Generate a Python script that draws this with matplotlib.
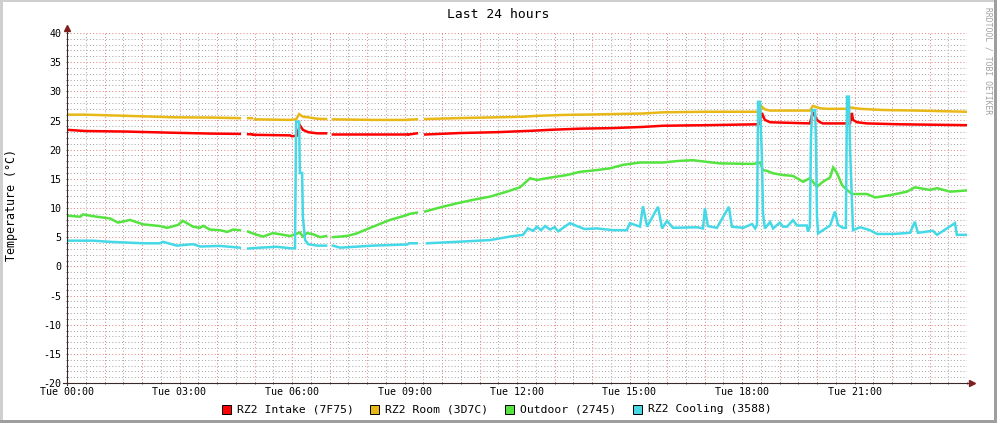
"""RRDtool-style 'Last 24 hours' temperature graph, redrawn with matplotlib."""
import numpy as np
import matplotlib
matplotlib.use("Agg")
import matplotlib.pyplot as plt
from matplotlib.patches import Rectangle
from matplotlib.ticker import MultipleLocator, FuncFormatter

nan = np.nan

# ---- data (hours since Tue 00:00, degC); nan marks gaps in the rrd ----
intake_t = [0.00, 0.48, 1.60, 2.83, 3.89, 4.61, 4.62, 4.83, 4.93, 4.94, 4.96, 5.95, 6.00,
            6.13, 6.21, 6.29, 6.43, 6.67, 6.91, 6.92, 7.09, 9.07, 9.08, 9.12, 9.33, 9.34,
            9.55, 10.48, 11.47, 12.43, 12.88, 13.68, 14.56, 15.36, 15.89, 17.07, 18.43,
            18.48, 18.53, 18.61, 18.75, 19.81, 19.89, 20.00, 20.08, 20.16, 20.88, 20.93,
            20.96, 21.07, 21.33, 22.21, 23.97]
intake_v = [23.4, 23.2, 23.1, 22.9, 22.75, 22.7, nan, 22.65, 22.65, nan, 22.55, 22.45, 22.3,
            22.4, 24.2, 23.4, 23.0, 22.8, 22.8, nan, 22.6, 22.6, nan, 22.6, 22.8, nan,
            22.6, 22.85, 23.0, 23.25, 23.4, 23.6, 23.7, 23.9, 24.1, 24.2, 24.35,
            24.5, 26.3, 25.1, 24.7, 24.5, 26.4, 25.1, 24.7, 24.5, 24.5, 26.3,
            25.1, 24.7, 24.5, 24.35, 24.2]

room_t = [0.00, 0.48, 1.60, 2.83, 3.89, 4.61, 4.62, 4.83, 4.93, 4.94, 5.01, 5.95, 6.11,
          6.19, 6.29, 6.43, 6.67, 6.91, 6.92, 7.09, 8.16, 9.07, 9.08, 9.12, 9.33, 9.34,
          9.55, 10.40, 11.47, 12.16, 12.53, 13.23, 14.13, 15.36, 15.89, 17.07, 18.48,
          18.53, 18.61, 18.75, 19.81, 19.89, 20.08, 20.27, 20.80, 20.88, 21.15, 21.76,
          22.67, 23.97]
room_v = [26.0, 26.0, 25.8, 25.55, 25.5, 25.4, nan, 25.4, 25.4, nan, 25.2, 25.1, 25.2,
          26.1, 25.65, 25.55, 25.3, 25.25, nan, 25.2, 25.1, 25.1, nan, 25.15, 25.2, nan,
          25.25, 25.4, 25.55, 25.65, 25.8, 25.95, 26.05, 26.2, 26.4, 26.5, 26.5,
          27.4, 26.9, 26.7, 26.7, 27.5, 27.1, 27.0, 27.0, 27.25, 27.0, 26.8,
          26.7, 26.5]

outdoor_t = [0.00, 0.35, 0.43, 0.69, 1.15, 1.36, 1.68, 2.03, 2.48, 2.67, 2.96, 3.09, 3.36,
             3.55, 3.63, 3.81, 4.08, 4.27, 4.43, 4.61, 4.62, 4.83, 4.93, 5.07, 5.23, 5.49,
             5.68, 5.95, 6.08, 6.21, 6.29, 6.40, 6.56, 6.75, 6.91, 6.92, 7.09, 7.47, 7.73,
             8.16, 8.61, 9.07, 9.08, 9.12, 9.33, 9.34, 9.55, 9.95, 10.40, 10.83, 11.28,
             11.73, 12.08, 12.35, 12.53, 12.88, 13.33, 13.68, 14.13, 14.48, 14.83, 15.28,
             15.89, 16.27, 16.69, 17.07, 17.41, 18.29, 18.48, 18.56, 18.67, 18.83, 19.09,
             19.36, 19.63, 19.81, 20.00, 20.16, 20.35, 20.43, 20.53, 20.67, 20.80, 20.93,
             21.33, 21.55, 21.95, 22.40, 22.61, 23.01, 23.20, 23.55, 23.97]
outdoor_v = [8.7, 8.5, 8.9, 8.6, 8.2, 7.5, 7.95, 7.2, 6.9, 6.6, 7.1, 7.8, 6.8,
             6.6, 6.95, 6.3, 6.2, 5.9, 6.3, 6.2, nan, 5.95, 5.7, 5.4, 5.1, 5.7,
             5.5, 5.2, 5.5, 5.8, 5.1, 5.7, 5.5, 5.0, 5.2, nan, 5.0, 5.2, 5.65,
             6.8, 7.95, 8.8, nan, 8.97, 9.2, nan, 9.4, 10.1, 10.8, 11.4, 11.95,
             12.8, 13.55, 15.1, 14.8, 15.2, 15.65, 16.2, 16.5, 16.8, 17.4, 17.8,
             17.8, 18.05, 18.2, 17.9, 17.65, 17.55, 17.8, 16.5, 16.35, 15.95, 15.65,
             15.5, 14.5, 15.1, 13.65, 14.5, 15.25, 16.95, 16.05, 13.9, 13.1, 12.4,
             12.4, 11.8, 12.2, 12.8, 13.55, 13.1, 13.4, 12.8, 13.0]

cooling_t = [0.00, 0.69, 1.15, 2.03, 2.48, 2.56, 2.93, 3.36, 3.55, 4.08, 4.61, 4.62, 4.83,
             5.15, 5.60, 5.95, 6.08, 6.11, 6.19, 6.21, 6.27, 6.29, 6.35, 6.43, 6.67, 6.91,
             6.92, 7.09, 7.28, 8.16, 9.07, 9.08, 9.12, 9.33, 9.34, 9.60, 10.40, 11.28,
             11.81, 12.16, 12.29, 12.43, 12.53, 12.64, 12.75, 12.88, 13.00, 13.10, 13.23,
             13.41, 13.60, 13.80, 14.13, 14.56, 14.93, 15.01, 15.28, 15.36, 15.47, 15.76,
             15.87, 16.00, 16.16, 16.80, 16.96, 17.01, 17.09, 17.33, 17.65, 17.73, 18.03,
             18.27, 18.35, 18.40, 18.43, 18.48, 18.53, 18.56, 18.61, 18.75, 18.83, 19.01,
             19.09, 19.20, 19.36, 19.47, 19.73, 19.76, 19.81, 19.84, 19.87, 19.95, 19.97,
             20.00, 20.03, 20.16, 20.35, 20.48, 20.56, 20.69, 20.77, 20.80, 20.85, 20.88,
             20.93, 20.96, 21.15, 21.41, 21.60, 22.03, 22.48, 22.61, 22.69, 23.09, 23.20,
             23.68, 23.73, 23.97]
cooling_v = [4.4, 4.4, 4.2, 3.95, 3.95, 4.2, 3.55, 3.8, 3.4, 3.5, 3.2, nan, 3.05,
             3.2, 3.35, 3.1, 3.1, 24.8, 24.8, 16.0, 16.0, 8.5, 4.5, 3.8, 3.55, 3.55,
             nan, 3.55, 3.2, 3.55, 3.75, nan, 3.95, 3.95, nan, 3.95, 4.2, 4.5,
             5.1, 5.4, 6.5, 6.1, 6.8, 6.2, 6.9, 6.3, 6.7, 6.0, 6.6,
             7.4, 6.9, 6.4, 6.5, 6.2, 6.2, 7.4, 6.8, 10.3, 6.8, 10.2,
             6.5, 7.8, 6.6, 6.7, 6.5, 9.95, 6.9, 6.6, 10.2, 6.8, 6.6,
             7.25, 6.5, 7.1, 28.2, 28.2, 18.8, 9.1, 6.5, 7.6, 6.5, 7.5,
             6.8, 6.8, 7.9, 7.0, 7.0, 5.95, 6.8, 22.2, 26.8, 26.8, 22.0,
             8.5, 5.65, 6.2, 7.0, 9.4, 7.1, 6.6, 6.6, 29.1, 29.1, 20.5,
             11.4, 6.2, 6.7, 6.2, 5.55, 5.55, 5.75, 7.65, 5.75, 6.1, 5.4,
             7.4, 5.4, 5.4]

series_names = ["RZ2 Intake (7F75)", "RZ2 Room (3D7C)", "Outdoor (2745)", "RZ2 Cooling (3588)"]
series_colors = ["#FF0000", "#E8B816", "#55E340", "#45D8E6"]

# ---- layout (pixels of a 997x423 canvas) ----
W, H = 997, 423
PX_L, PX_R, PX_T, PX_B = 67, 967, 33, 383
MONO = "DejaVu Sans Mono"

fig = plt.figure(figsize=(W / 100, H / 100), dpi=100)
fig.patch.set_facecolor("white")

ax = fig.add_axes([PX_L / W, 1 - PX_B / H, (PX_R - PX_L) / W, (PX_B - PX_T) / H])
ax.set_facecolor("white")
ax.set_xlim(0, 24)
ax.set_ylim(-20, 40)

for t, v, c in zip([intake_t, room_t, outdoor_t, cooling_t],
                   [intake_v, room_v, outdoor_v, cooling_v], series_colors):
    ax.plot(t, v, color=c, lw=1.8, solid_joinstyle="miter", zorder=3)

# grid: grey minor, red major, dotted like rrdtool
ax.xaxis.set_major_locator(MultipleLocator(1))
ax.xaxis.set_minor_locator(MultipleLocator(0.5))
ax.yaxis.set_major_locator(MultipleLocator(5))
ax.yaxis.set_minor_locator(MultipleLocator(1))
ax.set_axisbelow(True)
ax.grid(which="minor", color="#A8A8A8", lw=0.72, ls=(0, (1, 2.2)))
ax.grid(which="major", color="#E48484", lw=0.72, ls=(0, (1, 2.2)))


def xlab(h, pos):
    h = int(round(h))
    return f"Tue {h:02d}:00" if h % 3 == 0 and h < 24 else ""


ax.xaxis.set_major_formatter(FuncFormatter(xlab))
ax.yaxis.set_major_formatter(FuncFormatter(lambda v, p: f"{int(v)}"))
ax.tick_params(which="both", length=2, width=0.7, direction="inout", color="#555555",
               labelsize=7.2, pad=3)
ax.tick_params(axis="x", which="major", pad=2)
for lab in ax.get_xticklabels() + ax.get_yticklabels():
    lab.set_fontfamily(MONO)

for s in ax.spines.values():
    s.set_visible(False)

# axes with arrows
axis_col = "#3a2a2a"
arrow_col = "#7F1F1F"
ax.plot([-0.1, 24.1], [-20, -20], color=axis_col, lw=0.8, clip_on=False, zorder=4)
ax.plot([0, 0], [-20.4, 40.7], color=axis_col, lw=0.8, clip_on=False, zorder=4)
ax.plot([24.13], [-20], marker=">", ms=4, color=arrow_col, clip_on=False, zorder=5)
ax.plot([0], [40.8], marker="^", ms=4, color=arrow_col, clip_on=False, zorder=5)

# title, unit label, watermark
fig.text(0.5, 1 - 14 / H, "Last 24 hours", ha="center", va="center",
         fontsize=9.4, family=MONO)
fig.text(11 / W, 1 - 205 / H, "Temperature (°C)", rotation=90, ha="center", va="center",
         fontsize=8.4, family=MONO)
fig.text(988 / W, 1 - 61 / H, "RRDTOOL / TOBI OETIKER", rotation=270, ha="center",
         va="center", fontsize=5.8, family=MONO, color="#A0A0A0")

# legend
leg_x = [222, 370, 505, 633]
for x0, name, col in zip(leg_x, series_names, series_colors):
    fig.patches.append(Rectangle((x0 / W, 1 - 414 / H), 9 / W, 9 / H, transform=fig.transFigure,
                                 facecolor=col, edgecolor="black", lw=0.7))
    fig.text((x0 + 15) / W, 1 - 409 / H, name, ha="left", va="center",
             fontsize=8.2, family=MONO)

# rrdtool shaded frame
fig.patches.append(Rectangle((0, 1 - 2.5 / H), 1, 2.5 / H, transform=fig.transFigure,
                             facecolor="#CFCFCF", lw=0))
fig.patches.append(Rectangle((0, 0), 2.5 / W, 1, transform=fig.transFigure,
                             facecolor="#CFCFCF", lw=0))
fig.patches.append(Rectangle((1 - 3 / W, 0), 3 / W, 1, transform=fig.transFigure,
                             facecolor="#9E9E9E", lw=0))
fig.patches.append(Rectangle((0, 0), 1, 3 / H, transform=fig.transFigure,
                             facecolor="#9E9E9E", lw=0))

fig.savefig("out.png", dpi=100, facecolor=fig.get_facecolor())
